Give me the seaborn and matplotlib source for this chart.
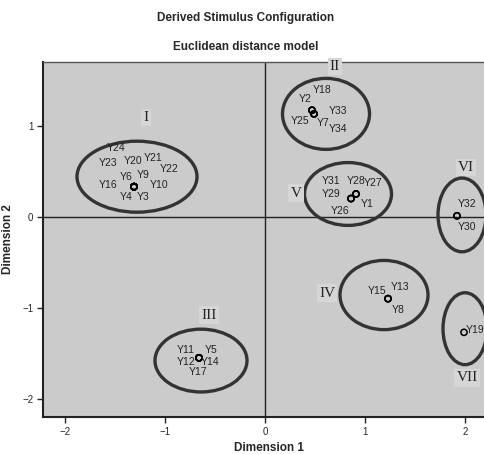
import pandas as pd
import seaborn as sns
import matplotlib.pyplot as plt
from matplotlib.patches import Ellipse

# stimulus coordinates
stimuli = ['Y24', 'Y23', 'Y20', 'Y21', 'Y22', 'Y6', 'Y9', 'Y16', 'Y10', 'Y4', 'Y3',
           'Y18', 'Y2', 'Y33', 'Y25', 'Y7', 'Y34',
           'Y31', 'Y28', 'Y27', 'Y29', 'Y26', 'Y1',
           'Y32', 'Y30',
           'Y11', 'Y5', 'Y12', 'Y14', 'Y17',
           'Y15', 'Y13', 'Y8',
           'Y19']
dim1 = [-1.31] * 11 + [0.47, 0.47, 0.49, 0.47, 0.49, 0.49] + \
       [0.86, 0.91, 0.91, 0.86, 0.86, 0.91] + [1.92, 1.92] + \
       [-0.66] * 5 + [1.23] * 3 + [1.99]
dim2 = [0.33] * 11 + [1.17, 1.17, 1.13, 1.17, 1.13, 1.13] + \
       [0.20, 0.25, 0.25, 0.20, 0.20, 0.25] + [0.01, 0.01] + \
       [-1.55] * 5 + [-0.90] * 3 + [-1.27]

# label offsets from the point, in pixels (dx, dy up)
label_offsets = {
    'Y24': (-18, 39), 'Y23': (-26, 24), 'Y20': (-1, 26), 'Y21': (19, 29),
    'Y22': (35, 18), 'Y6': (-8, 10), 'Y9': (9, 12), 'Y16': (-26, 2),
    'Y10': (25, 2), 'Y4': (-8, -10), 'Y3': (9, -10),
    'Y18': (10, 20), 'Y2': (-7, 11), 'Y33': (24, 3), 'Y25': (-12, -11),
    'Y7': (9, -9), 'Y34': (24, -15),
    'Y31': (-20, 18), 'Y28': (0, 13), 'Y27': (17, 11), 'Y29': (-20, 5),
    'Y26': (-11, -12), 'Y1': (11, -10),
    'Y32': (10, 12), 'Y30': (10, -11),
    'Y11': (-13, 8), 'Y5': (12, 8), 'Y12': (-13, -4), 'Y14': (11, -4),
    'Y17': (-1, -14),
    'Y15': (-11, 8), 'Y13': (12, 12), 'Y8': (10, -11),
    'Y19': (11, 2),
}

# cluster rings: numeral, ring centre/size, numeral position
clusters = ['I', 'II', 'III', 'IV', 'V', 'VI', 'VII']
ring_x = [-1.28, 0.61, -0.64, 1.19, 0.83, 1.97, 2.00]
ring_y = [0.44, 1.13, -1.58, -0.86, 0.25, 0.02, -1.23]
ring_w = [1.20, 0.87, 0.92, 0.88, 0.87, 0.48, 0.44]
ring_h = [0.78, 0.78, 0.69, 0.76, 0.69, 0.81, 0.79]
num_x = [-1.19, 0.70, -0.56, 0.62, 0.31, 2.01, 2.02]
num_y = [1.09, 1.65, -1.08, -0.84, 0.26, 0.54, -1.77]

df = pd.DataFrame({'stimulus': stimuli, 'Dimension 1': dim1, 'Dimension 2': dim2})

sns.set_style('white')
plt.rcParams['font.family'] = ['Liberation Sans', 'DejaVu Sans']

fig = plt.figure(figsize=(4.84, 4.54), dpi=100)
ax = fig.add_axes([43 / 484, 37 / 454, 452 / 484, 355 / 454])
ax.set_facecolor('#cbcbcb')

ax.axhline(0, color='#222222', lw=1.0, zorder=1)
ax.axvline(0, color='#222222', lw=1.0, zorder=1)

for cx, cy, w, h in zip(ring_x, ring_y, ring_w, ring_h):
    ax.add_patch(Ellipse((cx, cy), w, h, fill=False, ec='#333333', lw=2.4, zorder=2))

sns.scatterplot(data=df, x='Dimension 1', y='Dimension 2', ax=ax, marker='o',
                s=20, facecolor='none', edgecolor='black', linewidth=1.1, zorder=3)

for name, x, y in zip(df['stimulus'], df['Dimension 1'], df['Dimension 2']):
    dx, dy = label_offsets[name]
    ax.annotate(name, (x, y), xytext=(dx, dy), textcoords='offset pixels',
                ha='center', va='center', fontsize=7.5, color='#222222', zorder=4)

for lab, x, y in zip(clusters, num_x, num_y):
    ax.text(x, y, lab, ha='center', va='center', fontsize=11,
            family=['Liberation Serif', 'DejaVu Serif'], color='#222222', zorder=4,
            bbox=dict(boxstyle='square,pad=0.15', fc='#d6d6d6', ec='none'))

ax.set_xlim(-2.22, 2.30)
ax.set_ylim(-2.20, 1.70)
ax.set_xticks([-2, -1, 0, 1, 2])
ax.set_yticks([-2, -1, 0, 1])
ax.tick_params(axis='both', direction='out', length=4, width=1, labelsize=7,
               left=True, bottom=True, pad=3)
for side in ['left', 'bottom']:
    ax.spines[side].set_color('#222222')
    ax.spines[side].set_linewidth(1.5)
for side in ['top', 'right']:
    ax.spines[side].set_color('#555555')
    ax.spines[side].set_linewidth(1.0)

ax.set_xlabel('Dimension 1', fontsize=8.5, fontweight='bold', labelpad=4)
ax.set_ylabel('Dimension 2', fontsize=8.5, fontweight='bold', labelpad=6)

fig.text(246 / 484, 1 - 18 / 454, 'Derived Stimulus Configuration', ha='center',
         va='center', fontsize=8.5, fontweight='bold')
fig.text(246 / 484, 1 - 47 / 454, 'Euclidean distance model', ha='center',
         va='center', fontsize=8.5, fontweight='bold')

plt.savefig('out.png', dpi=100)
